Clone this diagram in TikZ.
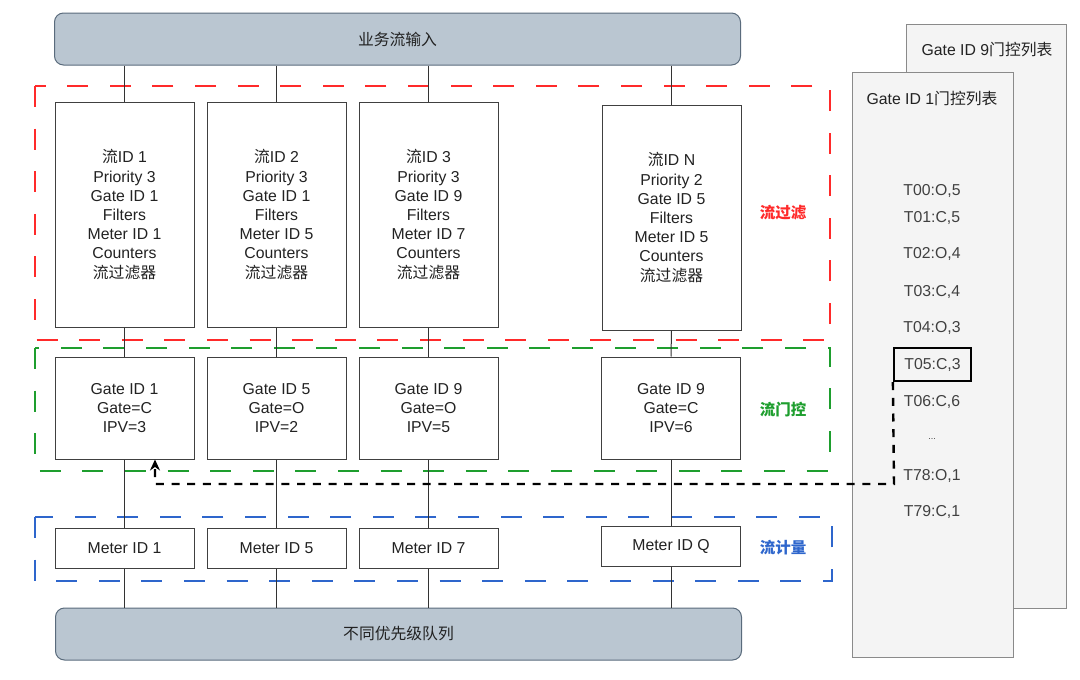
\documentclass[tikz,border=0pt]{standalone}
\usepackage{fontspec}
\setmainfont{Liberation Sans}
\newfontfamily\cjk{Noto Sans CJK SC}
\usetikzlibrary{arrows.meta}
\definecolor{barfill}{HTML}{BAC6D1}
\definecolor{bardraw}{HTML}{5A6B7C}
\definecolor{panelfill}{HTML}{F4F4F4}
\definecolor{paneldraw}{HTML}{8A8A8A}
\definecolor{myred}{HTML}{FF2A2A}
\definecolor{mygreen}{HTML}{1E9E2E}
\definecolor{myblue}{HTML}{2E66CC}
\definecolor{txt}{HTML}{222222}
\tikzset{
  every node/.style={font=\fontsize{15.8}{19.2}\selectfont, text=txt, inner sep=0pt},
  bar/.style={draw=bardraw, fill=barfill, rounded corners=9pt, line width=1pt, minimum width=686pt, minimum height=52pt},
  box/.style={draw=black!75, fill=white, line width=1pt, align=center},
  flowbox/.style={box, minimum width=139pt, minimum height=225pt},
  gatebox/.style={box, minimum width=139pt, minimum height=102pt},
  meterbox/.style={box, minimum width=139pt, minimum height=40pt},
  region/.style={line width=2.2pt, dash pattern=on 21pt off 21.6pt},
  regionlabel/.style={font=\cjk\bfseries\fontsize{15.5}{19}\selectfont},
  panel/.style={draw=paneldraw, fill=panelfill, line width=1pt},
  entry/.style={text=black!75},
  link/.style={draw=black!80, line width=1pt},
}
\begin{document}
\begin{tikzpicture}[x=1pt,y=-1pt]
\useasboundingbox (0,0) rectangle (1080,680);
% regions
\draw[region, myred] (35,86) rectangle (830,340);
\draw[region, mygreen] (35,348) rectangle (830,471);
\draw[region, myblue] (35,517) rectangle (832,581);
\node[regionlabel, text=myred] (lblf) at (783,213) {流过滤};
\node[regionlabel, text=mygreen] (lblg) at (783,410) {流门控};
\node[regionlabel, text=myblue] (lblm) at (783,548) {流计量};
% bars
\node[bar] (in) at (397.5,39) {\cjk 业务流输入};
\node[bar] (out) at (398.5,634) {\cjk 不同优先级队列};
% flow boxes
\node[flowbox] (f1) at (124.5,214.5) {{\cjk 流}ID 1\\Priority 3\\Gate ID 1\\Filters\\Meter ID 1\\Counters\\{\cjk 流过滤器}};
\node[flowbox] (f2) at (276.5,214.5) {{\cjk 流}ID 2\\Priority 3\\Gate ID 1\\Filters\\Meter ID 5\\Counters\\{\cjk 流过滤器}};
\node[flowbox] (f3) at (428.5,214.5) {{\cjk 流}ID 3\\Priority 3\\Gate ID 9\\Filters\\Meter ID 7\\Counters\\{\cjk 流过滤器}};
\node[flowbox] (f4) at (671.5,217.5) {{\cjk 流}ID N\\Priority 2\\Gate ID 5\\Filters\\Meter ID 5\\Counters\\{\cjk 流过滤器}};
% gate boxes
\node[gatebox] (g1) at (124.5,408) {Gate ID 1\\Gate=C\\IPV=3};
\node[gatebox] (g2) at (276.5,408) {Gate ID 5\\Gate=O\\IPV=2};
\node[gatebox] (g3) at (428.5,408) {Gate ID 9\\Gate=O\\IPV=5};
\node[gatebox] (g4) at (671,408) {Gate ID 9\\Gate=C\\IPV=6};
% meter boxes
\node[meterbox] (m1) at (124.5,548) {Meter ID 1};
\node[meterbox] (m2) at (276.5,548) {Meter ID 5};
\node[meterbox] (m3) at (428.5,548) {Meter ID 7};
\node[meterbox] (m4) at (671,546) {Meter ID Q};
% connectors
\foreach \f/\g/\m in {f1/g1/m1,f2/g2/m2,f3/g3/m3,f4/g4/m4}{
  \draw[link] (in.south -| \f.north) -- (\f.north);
  \draw[link] (\f.south) -- (\g.north);
  \draw[link] (\g.south) -- (\m.north);
  \draw[link] (\m.south) -- (out.north -| \m.south);
}
% panels
\node[panel, minimum width=160pt, minimum height=584pt] (p9) at (986,316) {};
\node (p9t) at (987,50) {Gate ID 9{\cjk 门控列表}};
\node[panel, minimum width=161pt, minimum height=585pt] (p1) at (932.5,364.5) {};
\node (p1t) at (932,99) {Gate ID 1{\cjk 门控列表}};
\node[entry] (t00) at (932,191) {T00:O,5};
\node[entry] (t01) at (932,218) {T01:C,5};
\node[entry] (t02) at (932,254) {T02:O,4};
\node[entry] (t03) at (932,292) {T03:C,4};
\node[entry] (t04) at (932,328) {T04:O,3};
\node[entry, draw=black, line width=2.2pt, minimum width=77pt, minimum height=33pt] (t05) at (932.5,364.5) {T05:C,3};
\node[entry] (t06) at (932,402) {T06:C,6};
\node[entry] (dots) at (932,439) {\fontsize{9}{10}\selectfont ...};
\node[entry] (t78) at (932,476) {T78:O,1};
\node[entry] (t79) at (932,512) {T79:C,1};
% dashed arrow
\coordinate (turn1) at (894,484);
\coordinate (turn2) at (155,484);
\draw[line width=2.4pt, dash pattern=on 8pt off 7.7pt, -{Stealth[length=11pt,width=10pt]}]
  (t05.south west) -- (turn1) -- (turn2) -- (g1.south -| turn2);
\end{tikzpicture}
\end{document}
